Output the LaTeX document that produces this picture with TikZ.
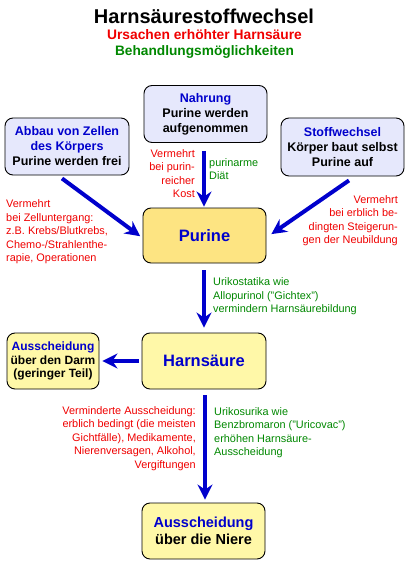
\documentclass[tikz,border=0pt]{standalone}
\usepackage{fontspec}
\setmainfont{Liberation Sans}
\usetikzlibrary{arrows.meta,calc}
\definecolor{tblue}{RGB}{0,0,204}
\definecolor{tred}{RGB}{240,0,0}
\definecolor{tgreen}{RGB}{0,136,0}
\definecolor{lav}{RGB}{230,232,252}
\definecolor{orangey}{RGB}{253,228,130}
\definecolor{lyel}{RGB}{255,248,168}
\tikzset{
  box/.style={draw=black, line width=0.9pt, rounded corners=8pt, inner sep=0pt, align=center,
    font=\fontsize{12.5}{15}\selectfont\bfseries},
  arr/.style={draw=tblue, line width=4pt, -{Stealth[length=15pt,width=15pt,inset=5pt]}},
  note/.style={inner sep=0pt, font=\fontsize{10.9}{13.5}\selectfont},
}
\begin{document}
\begin{tikzpicture}[x=1pt,y=-1pt]
\useasboundingbox (0,0) rectangle (408,567);
\fill[white] (0,0) rectangle (408,567);
% titles
\node[inner sep=0pt, anchor=base, font=\fontsize{20}{22}\selectfont\bfseries] (title) at (204,24) {Harnsäurestoffwechsel};
\node[inner sep=0pt, anchor=base, text=tred, font=\fontsize{13.8}{15}\selectfont\bfseries] (sub1) at (204.5,39.5) {Ursachen erhöhter Harnsäure};
\node[inner sep=0pt, anchor=base, text=tgreen, font=\fontsize{13.7}{15}\selectfont\bfseries] (sub2) at (204.5,55.5) {Behandlungsmöglichkeiten};
% boxes
\node[box, fill=lav, minimum width=123pt, minimum height=57pt] (nahrung) at (205.5,114)
  {\textcolor{tblue}{Nahrung}\\Purine werden\\aufgenommen};
\node[box, fill=lav, minimum width=124pt, minimum height=57pt] (zellen) at (67,146.5)
  {\textcolor{tblue}{Abbau von Zellen}\\\textcolor{tblue}{des Körpers}\\Purine werden frei};
\node[box, fill=lav, minimum width=123pt, minimum height=58pt] (stoff) at (342.5,147)
  {\textcolor{tblue}{Stoffwechsel}\\Körper baut selbst\\Purine auf};
\node[box, fill=orangey, minimum width=123pt, minimum height=55pt, text=tblue, font=\fontsize{16.5}{18}\selectfont\bfseries] (purine) at (204.5,235.5) {Purine};
\node[box, fill=lyel, minimum width=124pt, minimum height=56pt, text=tblue, font=\fontsize{16.5}{18}\selectfont\bfseries] (harn) at (204,361) {Harnsäure};
\node[box, fill=lyel, minimum width=92pt, minimum height=56pt, font=\fontsize{12}{13.5}\selectfont\bfseries] (darm) at (53,361)
  {\textcolor{tblue}{Ausscheidung}\\über den Darm\\(geringer Teil)};
\node[box, fill=lyel, minimum width=123pt, minimum height=56pt, font=\fontsize{14.5}{17}\selectfont\bfseries] (niere) at (203.5,531)
  {\textcolor{tblue}{Ausscheidung}\\über die Niere};
% arrows
\draw[arr, shorten >=1pt] ($(nahrung.south)+(-1.5,8)$) -- ($(purine.north)+(-0.5,0)$);
\draw[arr, shorten >=3pt] ($(zellen.south)+(-5,3)$) -- ($(purine.west)+(0,2.5)$);
\draw[arr, shorten >=6pt] ($(stoff.south)+(6.5,4)$) -- ($(purine.east)+(0,2)$);
\draw[arr, shorten >=5pt] ($(purine.south)+(-0.5,7)$) -- ($(harn.north)+(0,0)$);
\draw[arr, shorten <=3pt, shorten >=3pt] (harn.west) -- (darm.east);
\draw[arr, shorten >=3pt] ($(harn.south)+(1,6)$) -- ($(niere.north)+(1.5,0)$);
% notes
\node[note, text=tred, anchor=north west, align=left] (n1) at (6,199.5)
  {Vermehrt\\bei Zelluntergang:\\z.B. Krebs/Blutkrebs,\\Chemo-/Strahlenthe-\\rapie, Operationen};
\node[note, text=tred, anchor=north east, align=right] (n2) at (195,149)
  {Vermehrt\\bei purin-\\reicher\\Kost};
\node[note, text=tgreen, anchor=north west, align=left] (n3) at (209,158)
  {purinarme\\Diät};
\node[note, text=tred, anchor=north east, align=right] (n4) at (398,195)
  {Vermehrt\\bei erblich be-\\dingten Steigerun-\\gen der Neubildung};
\node[note, text=tgreen, anchor=north west, align=left] (n5) at (213,277.5)
  {Urikostatika wie\\Allopurinol ("Gichtex")\\vermindern Harnsäurebildung};
\node[note, text=tred, anchor=north east, align=right] (n6) at (196,406)
  {Verminderte Ausscheidung:\\erblich bedingt (die meisten\\Gichtfälle), Medikamente,\\Nierenversagen, Alkohol,\\Vergiftungen};
\node[note, text=tgreen, anchor=north west, align=left] (n7) at (214,407)
  {Urikosurika wie\\Benzbromaron ("Uricovac")\\erhöhen Harnsäure-\\Ausscheidung};
\end{tikzpicture}
\end{document}
